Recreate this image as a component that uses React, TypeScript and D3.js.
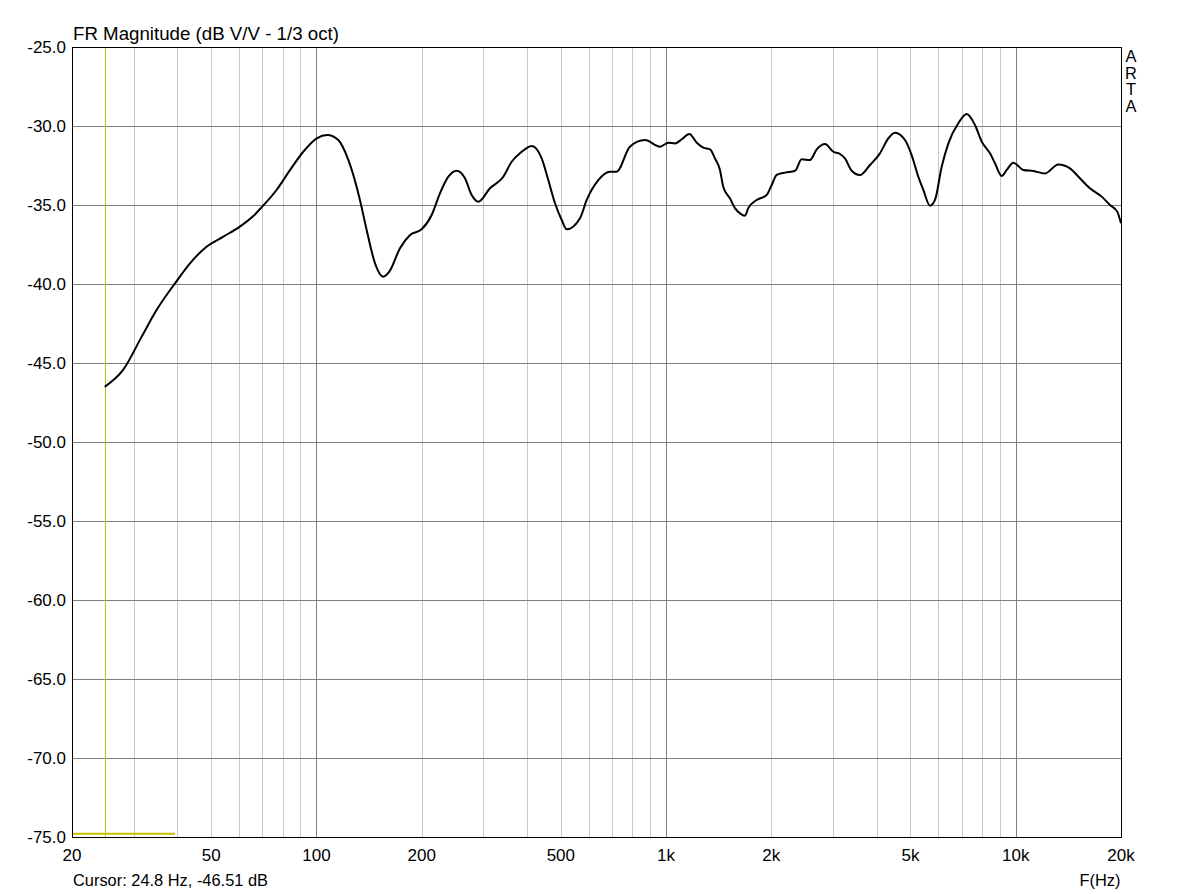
import React from "react";
import * as d3 from "d3";

const freqs = [24.8, 28.0, 31.65, 34.9, 39.4, 43.5, 48.5, 54.2, 60.4, 66.0, 69.7, 76.9, 84.1, 91.7, 100.2, 107.5, 115.5, 123.4, 133.2, 139.2, 147.1, 155.3, 161.6, 173.4, 185.3, 200, 213.6, 225.6, 238.4, 251.9, 266, 278, 290.4, 313.6, 342.4, 361.8, 382.2, 412.8, 440.8, 460.4, 481.3, 503, 520, 567.4, 593, 640, 691, 722, 788, 870, 961, 1015, 1061, 1109, 1166, 1224, 1278, 1336, 1380, 1426, 1457, 1523, 1574, 1627, 1681, 1718, 1816, 1939, 2005, 2072, 2189, 2338, 2443, 2580, 2697, 2848, 3008, 3143, 3248, 3395, 3586, 3829, 4090, 4320, 4516, 4823, 5038, 5265, 5441, 5686, 5876, 6141, 6417, 6851, 7240, 7646, 7993, 8442, 8724, 9117, 9423, 9843, 10514, 11228, 12127, 13238, 14293, 15262, 16297, 17615, 18604, 19512, 20000];
const levels = [-46.51, -45.44, -43.33, -41.65, -39.96, -38.69, -37.64, -37.0, -36.37, -35.7, -35.15, -34.05, -32.78, -31.63, -30.78, -30.57, -30.89, -32.15, -34.68, -36.58, -38.69, -39.54, -39.22, -37.74, -36.9, -36.54, -35.63, -34.26, -33.21, -32.83, -33.31, -34.37, -34.79, -33.94, -33.21, -32.26, -31.73, -31.27, -32.05, -33.42, -34.89, -35.95, -36.54, -35.84, -34.68, -33.42, -32.89, -32.89, -31.31, -30.89, -31.31, -31.06, -31.1, -30.84, -30.51, -31.06, -31.37, -31.48, -32.05, -32.78, -33.84, -34.58, -35.2, -35.53, -35.68, -35.2, -34.68, -34.37, -33.73, -33.1, -32.95, -32.83, -32.11, -32.15, -31.48, -31.14, -31.63, -31.77, -32.05, -32.83, -33.1, -32.47, -31.73, -30.78, -30.42, -30.89, -31.84, -33.21, -34.05, -35.04, -34.68, -32.58, -31.1, -29.83, -29.24, -29.94, -30.99, -31.73, -32.36, -33.16, -32.78, -32.32, -32.78, -32.85, -33.0, -32.43, -32.68, -33.31, -33.94, -34.47, -35.0, -35.42, -36.16];

const yTicks = [-25, -30, -35, -40, -45, -50, -55, -60, -65, -70, -75];
const xTickValues = [20, 50, 100, 200, 500, 1000, 2000, 5000, 10000, 20000];
const xTickLabels = ["20", "50", "100", "200", "500", "1k", "2k", "5k", "10k", "20k"];
const majorGrid = [100, 1000, 10000];
const minorGrid = [30, 40, 50, 60, 70, 80, 90, 200, 300, 400, 500, 600, 700, 800, 900, 2000, 3000, 4000, 5000, 6000, 7000, 8000, 9000];
const cursorFreq = [24.8];
const markerFreqs = [20, 39.4];
const markerLevel = [-74.8];
const titleText = "FR Magnitude (dB V/V - 1/3 oct)";
const cursorText = "Cursor: 24.8 Hz, -46.51 dB";
const xAxisTitle = "F(Hz)";
const brand = ["A", "R", "T", "A"];

export default function App() {
  const W = 1193, H = 894;
  const left = 72, right = 1121, top = 47, bottom = 837;
  const x = d3.scaleLog().domain([20, 20000]).range([left, right]);
  const y = d3.scaleLinear().domain([-75, -25]).range([bottom, top]);
  const line = d3.line<number>()
    .x((d, i) => x(freqs[i]))
    .y((d) => y(d))
    .curve(d3.curveMonotoneX);
  const font = "'Liberation Sans', Arial, sans-serif";
  return (
    <svg width={W} height={H} style={{ position: "absolute", left: 0, top: 0, background: "#fff" }} fontFamily={font}>
      <rect x={0} y={0} width={W} height={H} fill="#fff" />
      {minorGrid.map((f) => (
        <line key={"mi" + f} x1={Math.round(x(f)) + 0.5} x2={Math.round(x(f)) + 0.5} y1={top} y2={bottom} stroke="#c8c8c8" strokeWidth={1} />
      ))}
      {majorGrid.map((f) => (
        <line key={"ma" + f} x1={Math.round(x(f)) + 0.5} x2={Math.round(x(f)) + 0.5} y1={top} y2={bottom} stroke="#808080" strokeWidth={1} />
      ))}
      {yTicks.map((t) => (
        <line key={"h" + t} x1={left} x2={right} y1={Math.round(y(t)) + 0.5} y2={Math.round(y(t)) + 0.5} stroke="#808080" strokeWidth={1} />
      ))}
      {cursorFreq.map((f) => (
        <line key={"c" + f} x1={Math.round(x(f)) + 0.5} x2={Math.round(x(f)) + 0.5} y1={top} y2={bottom} stroke="#c0c000" strokeWidth={1} />
      ))}
      <line x1={x(markerFreqs[0])} x2={x(markerFreqs[1])} y1={y(markerLevel[0])} y2={y(markerLevel[0])} stroke="#c0c000" strokeWidth={2} />
      <path d={line(levels) || ""} fill="none" stroke="#000" strokeWidth={2} strokeLinejoin="round" />
      <rect x={left + 0.5} y={top + 0.5} width={right - left} height={bottom - top} fill="none" stroke="#000" strokeWidth={1} />
      {yTicks.map((t) => (
        <text key={"yt" + t} x={66} y={y(t)} dy="0.36em" textAnchor="end" fontSize={17} fill="#000">{t.toFixed(1)}</text>
      ))}
      {xTickValues.map((f, i) => (
        <text key={"xt" + f} x={x(f)} y={861} textAnchor="middle" fontSize={17} fill="#000">{xTickLabels[i]}</text>
      ))}
      <text x={73} y={40} fontSize={18.7} fill="#000">{titleText}</text>
      <text x={73} y={886} fontSize={16.4} fill="#000">{cursorText}</text>
      <text x={1100} y={886} textAnchor="middle" fontSize={16.4} fill="#000">{xAxisTitle}</text>
      {brand.map((c, i) => (
        <text key={"b" + i} x={1131} y={62 + i * 16.5} textAnchor="middle" fontSize={16.4} fill="#000">{c}</text>
      ))}
    </svg>
  );
}
